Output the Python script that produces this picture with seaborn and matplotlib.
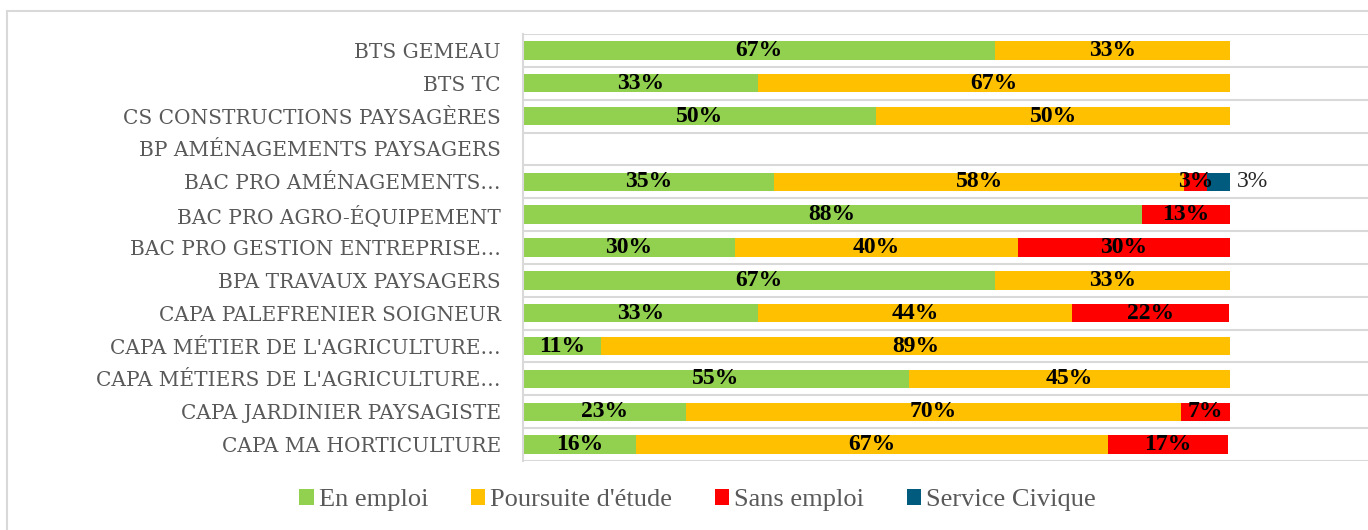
import numpy as np
import pandas as pd
import matplotlib
matplotlib.use("Agg")
import matplotlib.pyplot as plt
from matplotlib.patches import Rectangle, Patch
import seaborn as sns

categories = [
    "BTS GEMEAU",
    "BTS TC",
    "CS CONSTRUCTIONS PAYSAGÈRES",
    "BP AMÉNAGEMENTS PAYSAGERS",
    "BAC PRO AMÉNAGEMENTS…",
    "BAC PRO AGRO-ÉQUIPEMENT",
    "BAC PRO GESTION ENTREPRISE…",
    "BPA TRAVAUX PAYSAGERS",
    "CAPA PALEFRENIER SOIGNEUR",
    "CAPA MÉTIER DE L'AGRICULTURE…",
    "CAPA MÉTIERS DE L'AGRICULTURE…",
    "CAPA JARDINIER PAYSAGISTE",
    "CAPA MA HORTICULTURE",
]
en_emploi = [0.667, 0.333, 0.50, 0.0, 0.3548, 0.875, 0.30, 0.667, 0.333, 0.111, 0.5455, 0.23, 0.16]
poursuite = [0.333, 0.667, 0.50, 0.0, 0.5806, 0.0, 0.40, 0.333, 0.444, 0.889, 0.4545, 0.70, 0.667]
sans_emploi = [0.0, 0.0, 0.0, 0.0, 0.0323, 0.125, 0.30, 0.0, 0.222, 0.0, 0.0, 0.07, 0.17]
service_civique = [0.0, 0.0, 0.0, 0.0, 0.0323, 0.0, 0.0, 0.0, 0.0, 0.0, 0.0, 0.0, 0.0]

series_names = ["En emploi", "Poursuite d'étude", "Sans emploi", "Service Civique"]
series_values = [en_emploi, poursuite, sans_emploi, service_civique]
colors = ["#92D050", "#FFC000", "#FF0000", "#005B7F"]

sns.set_style("white")
plt.rcParams["font.family"] = ["DejaVu Serif", "DejaVu Sans"]

W, H = 1368, 530
fig = plt.figure(figsize=(W / 100, H / 100), dpi=100)
ax_left = 523 / W
ax_top = 1 - 34 / H
ax_bottom = 1 - 461 / H
xmax = 1.2
ax_width = xmax * 707 / W
ax = fig.add_axes([ax_left, ax_bottom, ax_width, ax_top - ax_bottom])

left = np.zeros(len(categories))
for name, vals, col in zip(series_names, series_values, colors):
    vals = np.array(vals)
    sns.barplot(x=vals, y=categories, order=categories, orient="h", color=col,
                left=left, width=0.56, ax=ax, linewidth=0, errorbar=None,
                saturation=1)
    cont = ax.containers[-1]
    labels = [f"{int(v * 100 + 0.5)}%" if v > 0 else "" for v in vals]
    if name == "Service Civique":
        ax.bar_label(cont, labels=labels, label_type="edge", padding=5,
                     fontsize=17, color="#262626", family="Liberation Serif")
    else:
        ax.bar_label(cont, labels=labels, label_type="center", fontsize=17,
                     fontweight="bold", color="black", family="Liberation Serif")
    left = left + vals

ax.set_xlim(0, xmax)
ax.set_ylim(len(categories) - 0.5, -0.5)
ax.set_xlabel("")
ax.set_ylabel("")
ax.xaxis.set_visible(False)
ax.set_yticks(np.arange(-0.5, len(categories)), minor=True)
ax.grid(which="minor", axis="y", color="#D9D9D9", linewidth=1.5)
ax.grid(which="major", visible=False)
ax.tick_params(axis="y", which="both", length=0, pad=16)
for lab in ax.get_yticklabels():
    lab.set_fontsize(14.5)
    lab.set_color("#595959")
    lab.set_family("DejaVu Serif")
for s in ["top", "right", "bottom"]:
    ax.spines[s].set_visible(False)
ax.spines["left"].set_color("#D9D9D9")
ax.spines["left"].set_linewidth(1.5)
ax.set_axisbelow(True)

handles = [Patch(facecolor=c, edgecolor="none") for c in colors]
fig.legend(handles, series_names, loc="center", bbox_to_anchor=(0.51, 1 - 500 / H),
           ncol=4, frameon=False, prop={"family": "Liberation Serif", "size": 19},
           labelcolor="#595959", handlelength=0.55, handleheight=0.55,
           handletextpad=0.2, columnspacing=1.6)

fig.patches.append(Rectangle((7 / W, -0.02), 1.0, 1 - 11 / H + 0.02,
                             transform=fig.transFigure, fill=False,
                             edgecolor="#D9D9D9", linewidth=1.5))

fig.savefig("out.png", dpi=100)
